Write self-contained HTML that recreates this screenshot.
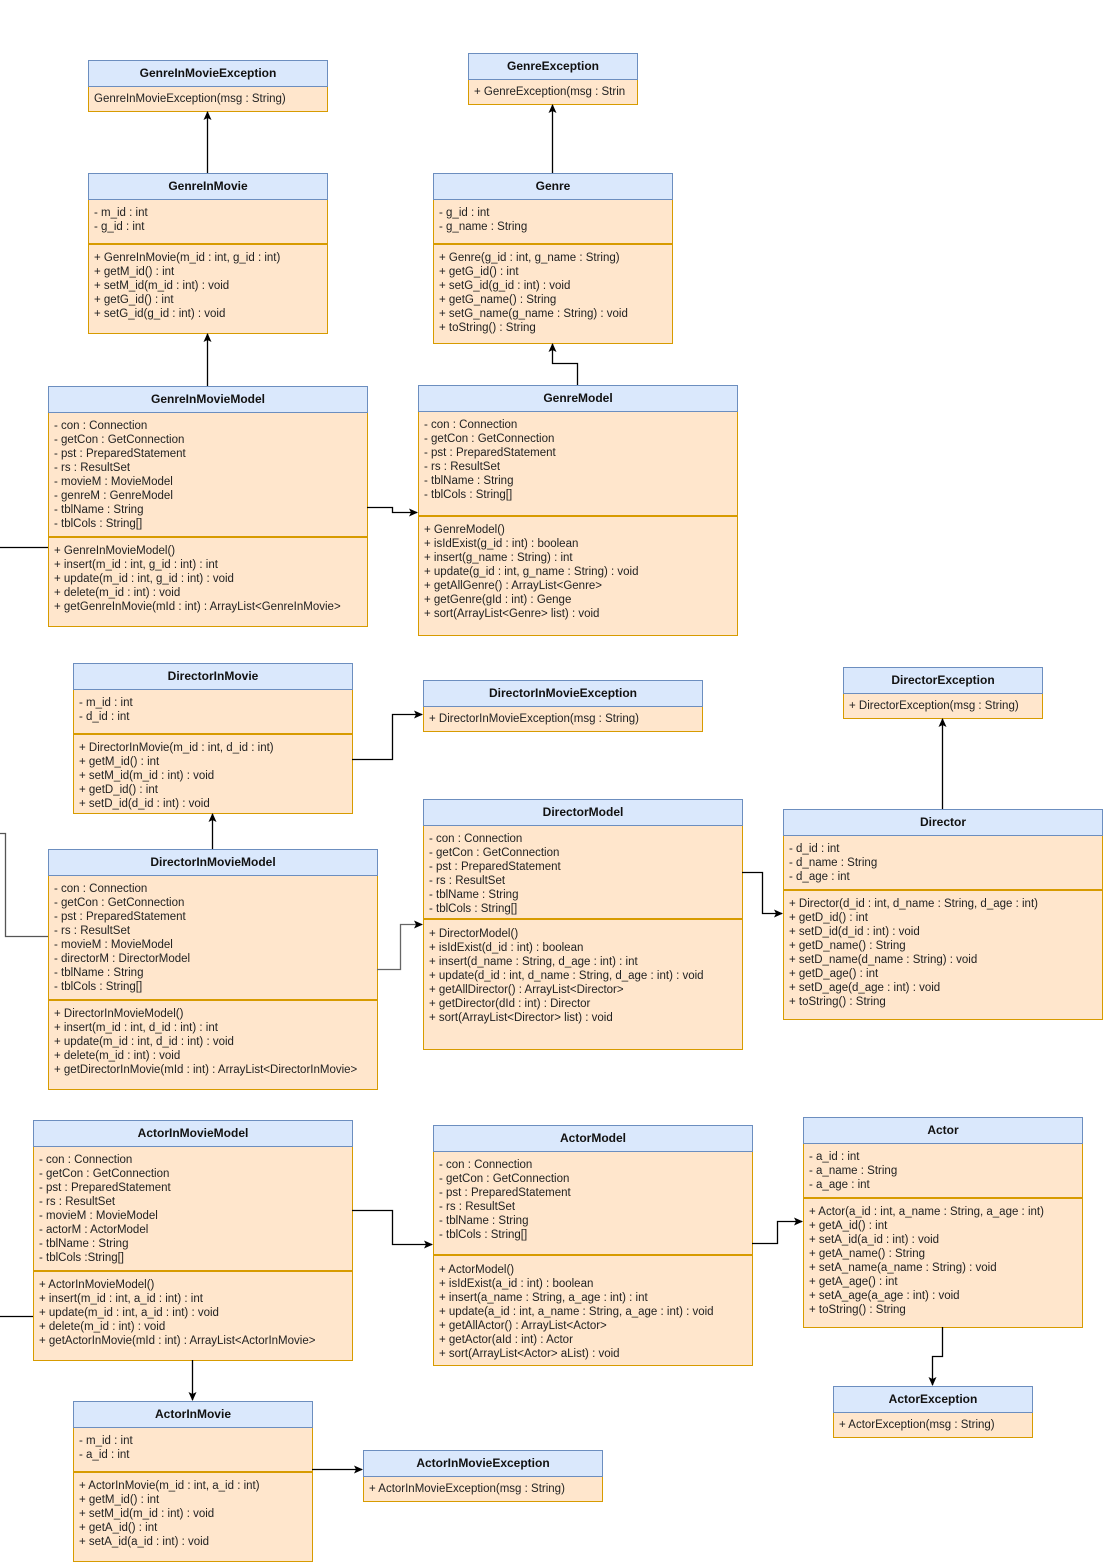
<!DOCTYPE html>
<html><head><meta charset="utf-8"><style>
body{margin:0;width:1103px;height:1562px;background:#fff;position:relative;overflow:hidden;font-family:"Liberation Sans",Arial,sans-serif;font-size:11.5px;color:#222}
.b{position:absolute;box-sizing:border-box}
.h{box-sizing:border-box;background:#dae8fc;border:1px solid #6c8ebf;height:27px;line-height:25px;text-align:center;font-weight:bold;font-size:12px;color:#111}
.s{box-sizing:border-box;background:#ffe6cc;border:1px solid #d79b00;border-top:none;padding:6px 0 0 5px;line-height:14px;white-space:pre;overflow:hidden}
.s+.s{border-top:1px solid #d79b00;}
svg{position:absolute;left:0;top:0}
</style></head><body>

<div class="b" style="left:88px;top:60px;width:240px"><div class="h">GenreInMovieException</div><div class="s" style="height:25px;padding-top:5px">GenreInMovieException(msg : String)</div></div>

<div class="b" style="left:468px;top:53px;width:170px"><div class="h">GenreException</div><div class="s" style="height:25px;padding-top:5px">+ GenreException(msg : Strin</div></div>

<div class="b" style="left:88px;top:173px;width:240px"><div class="h">GenreInMovie</div><div class="s" style="height:44px">- m_id : int
- g_id : int</div><div class="s" style="height:90px">+ GenreInMovie(m_id : int, g_id : int)
+ getM_id() : int
+ setM_id(m_id : int) : void
+ getG_id() : int
+ setG_id(g_id : int) : void</div></div>

<div class="b" style="left:433px;top:173px;width:240px"><div class="h">Genre</div><div class="s" style="height:44px">- g_id : int
- g_name : String</div><div class="s" style="height:100px">+ Genre(g_id : int, g_name : String)
+ getG_id() : int
+ setG_id(g_id : int) : void
+ getG_name() : String
+ setG_name(g_name : String) : void
+ toString() : String</div></div>

<div class="b" style="left:48px;top:386px;width:320px"><div class="h">GenreInMovieModel</div><div class="s" style="height:124px">- con : Connection
- getCon : GetConnection
- pst : PreparedStatement
- rs : ResultSet
- movieM : MovieModel
- genreM : GenreModel
- tblName : String
- tblCols : String[]</div><div class="s" style="height:90px">+ GenreInMovieModel()
+ insert(m_id : int, g_id : int) : int
+ update(m_id : int, g_id : int) : void
+ delete(m_id : int) : void
+ getGenreInMovie(mId : int) : ArrayList&lt;GenreInMovie&gt;</div></div>

<div class="b" style="left:418px;top:385px;width:320px"><div class="h">GenreModel</div><div class="s" style="height:104px">- con : Connection
- getCon : GetConnection
- pst : PreparedStatement
- rs : ResultSet
- tblName : String
- tblCols : String[]</div><div class="s" style="height:120px">+ GenreModel()
+ isIdExist(g_id : int) : boolean
+ insert(g_name : String) : int
+ update(g_id : int, g_name : String) : void
+ getAllGenre() : ArrayList&lt;Genre&gt;
+ getGenre(gId : int) : Genge
+ sort(ArrayList&lt;Genre&gt; list) : void</div></div>

<div class="b" style="left:73px;top:663px;width:280px"><div class="h">DirectorInMovie</div><div class="s" style="height:44px">- m_id : int
- d_id : int</div><div class="s" style="height:80px">+ DirectorInMovie(m_id : int, d_id : int)
+ getM_id() : int
+ setM_id(m_id : int) : void
+ getD_id() : int
+ setD_id(d_id : int) : void</div></div>

<div class="b" style="left:423px;top:680px;width:280px"><div class="h">DirectorInMovieException</div><div class="s" style="height:25px;padding-top:5px">+ DirectorInMovieException(msg : String)</div></div>

<div class="b" style="left:843px;top:667px;width:200px"><div class="h">DirectorException</div><div class="s" style="height:25px;padding-top:5px">+ DirectorException(msg : String)</div></div>

<div class="b" style="left:423px;top:799px;width:320px"><div class="h">DirectorModel</div><div class="s" style="height:93px">- con : Connection
- getCon : GetConnection
- pst : PreparedStatement
- rs : ResultSet
- tblName : String
- tblCols : String[]</div><div class="s" style="height:131px;padding-top:7px">+ DirectorModel()
+ isIdExist(d_id : int) : boolean
+ insert(d_name : String, d_age : int) : int
+ update(d_id : int, d_name : String, d_age : int) : void
+ getAllDirector() : ArrayList&lt;Director&gt;
+ getDirector(dId : int) : Director
+ sort(ArrayList&lt;Director&gt; list) : void</div></div>

<div class="b" style="left:783px;top:809px;width:320px"><div class="h">Director</div><div class="s" style="height:54px">- d_id : int
- d_name : String
- d_age : int</div><div class="s" style="height:130px">+ Director(d_id : int, d_name : String, d_age : int)
+ getD_id() : int
+ setD_id(d_id : int) : void
+ getD_name() : String
+ setD_name(d_name : String) : void
+ getD_age() : int
+ setD_age(d_age : int) : void
+ toString() : String</div></div>

<div class="b" style="left:48px;top:849px;width:330px"><div class="h">DirectorInMovieModel</div><div class="s" style="height:124px">- con : Connection
- getCon : GetConnection
- pst : PreparedStatement
- rs : ResultSet
- movieM : MovieModel
- directorM : DirectorModel
- tblName : String
- tblCols : String[]</div><div class="s" style="height:90px">+ DirectorInMovieModel()
+ insert(m_id : int, d_id : int) : int
+ update(m_id : int, d_id : int) : void
+ delete(m_id : int) : void
+ getDirectorInMovie(mId : int) : ArrayList&lt;DirectorInMovie&gt;</div></div>

<div class="b" style="left:33px;top:1120px;width:320px"><div class="h">ActorInMovieModel</div><div class="s" style="height:124px">- con : Connection
- getCon : GetConnection
- pst : PreparedStatement
- rs : ResultSet
- movieM : MovieModel
- actorM : ActorModel
- tblName : String
- tblCols :String[]</div><div class="s" style="height:90px">+ ActorInMovieModel()
+ insert(m_id : int, a_id : int) : int
+ update(m_id : int, a_id : int) : void
+ delete(m_id : int) : void
+ getActorInMovie(mId : int) : ArrayList&lt;ActorInMovie&gt;</div></div>

<div class="b" style="left:433px;top:1125px;width:320px"><div class="h">ActorModel</div><div class="s" style="height:103px">- con : Connection
- getCon : GetConnection
- pst : PreparedStatement
- rs : ResultSet
- tblName : String
- tblCols : String[]</div><div class="s" style="height:111px;padding-top:7px">+ ActorModel()
+ isIdExist(a_id : int) : boolean
+ insert(a_name : String, a_age : int) : int
+ update(a_id : int, a_name : String, a_age : int) : void
+ getAllActor() : ArrayList&lt;Actor&gt;
+ getActor(aId : int) : Actor
+ sort(ArrayList&lt;Actor&gt; aList) : void</div></div>

<div class="b" style="left:803px;top:1117px;width:280px"><div class="h">Actor</div><div class="s" style="height:54px">- a_id : int
- a_name : String
- a_age : int</div><div class="s" style="height:130px">+ Actor(a_id : int, a_name : String, a_age : int)
+ getA_id() : int
+ setA_id(a_id : int) : void
+ getA_name() : String
+ setA_name(a_name : String) : void
+ getA_age() : int
+ setA_age(a_age : int) : void
+ toString() : String</div></div>

<div class="b" style="left:833px;top:1386px;width:200px"><div class="h">ActorException</div><div class="s" style="height:25px;padding-top:5px">+ ActorException(msg : String)</div></div>

<div class="b" style="left:73px;top:1401px;width:240px"><div class="h">ActorInMovie</div><div class="s" style="height:44px">- m_id : int
- a_id : int</div><div class="s" style="height:90px">+ ActorInMovie(m_id : int, a_id : int)
+ getM_id() : int
+ setM_id(m_id : int) : void
+ getA_id() : int
+ setA_id(a_id : int) : void</div></div>

<div class="b" style="left:363px;top:1450px;width:240px"><div class="h">ActorInMovieException</div><div class="s" style="height:25px;padding-top:5px">+ ActorInMovieException(msg : String)</div></div>

<svg width="1103" height="1562" viewBox="0 0 1103 1562">
<defs><marker id="a" markerWidth="10" markerHeight="10" refX="8" refY="5" orient="auto" markerUnits="userSpaceOnUse"><path d="M0,1 L9,5 L0,9 L2,5 Z" fill="#000"/></marker></defs>
<g fill="none" stroke="#000" stroke-width="1.3" marker-end="url(#a)">
<path d="M207.5,173 V112"/>
<path d="M552.5,173 V105"/>
<path d="M207.5,386 V334"/>
<path d="M577.5,385 V363.5 H552.5 V344"/>
<path d="M367,507.5 H392.5 V512.5 H417"/>
<path d="M352,759.5 H392.5 V714.5 H422"/>
<path d="M212.5,849 V814"/>
<path d="M377,969.5 H400.5 V924.5 H422" stroke="#666"/>
<path d="M742,872.5 H762.5 V913.5 H782"/>
<path d="M942.5,809 V719"/>
<path d="M352,1210.5 H392.5 V1244.5 H432"/>
<path d="M192.5,1360 V1400"/>
<path d="M752,1243.5 H777.5 V1221.5 H802"/>
<path d="M942.5,1327 V1356.5 H932.5 V1385"/>
<path d="M312,1469.5 H362"/>
</g>
<g fill="none" stroke="#000" stroke-width="1.3">
<path d="M0,547.5 H48"/>
<path d="M0,833.5 H5.5 V936.5 H48" stroke="#555"/>
<path d="M0,1316.5 H33"/>
</g>
</svg>
</body></html>
